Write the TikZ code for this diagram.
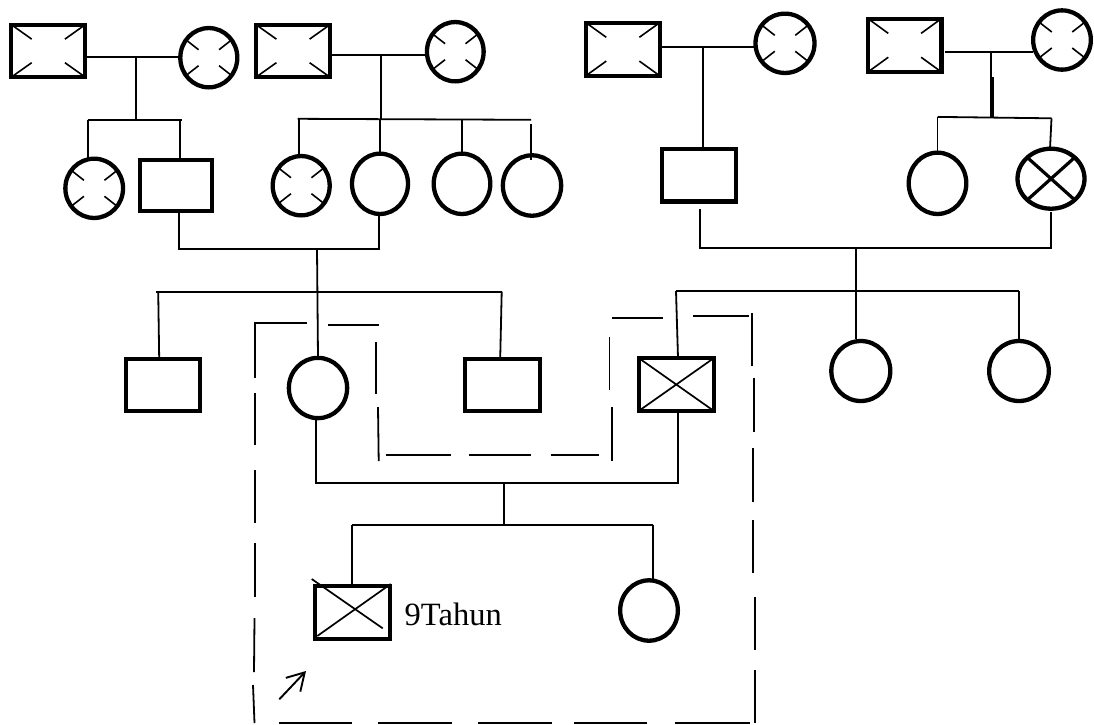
\documentclass[tikz,border=0pt]{standalone}
\usepackage{fontspec}
\setmainfont{Liberation Serif}
\usetikzlibrary{shapes.geometric,calc,arrows.meta}

\tikzset{
  sym/.style={draw, line width=4.3pt, inner sep=0pt, outer sep=0pt},
  male/.style={sym, rectangle, minimum width=74pt, minimum height=52.5pt},
  female/.style={sym, ellipse, minimum width=57pt, minimum height=60pt},
  sz/.style 2 args={minimum width=#1pt, minimum height=#2pt},
  % corner ticks inside a square
  tsq/.style={path picture={
    \foreach \c in {north west,north east,south west,south east}
      \draw[line width=1.6pt] (path picture bounding box.\c) --
        ($(path picture bounding box.\c)!25pt!(path picture bounding box.center)$);}},
  % four short radial ticks inside a circle
  tc/.style={path picture={
    \foreach \a in {38,142,218,322}
      \draw[line width=1.6pt] ($(path picture bounding box.center)+(\a:13pt)$) --
        ($(path picture bounding box.center)+(\a:40pt)$);}},
  % full diagonal cross
  crossq/.style={path picture={
    \draw[line width=1.7pt]
      (path picture bounding box.north west) -- (path picture bounding box.south east)
      (path picture bounding box.south west) -- (path picture bounding box.north east);}},
  crossc/.style={path picture={
    \draw[line width=3.2pt]
      (path picture bounding box.north west) -- (path picture bounding box.south east)
      (path picture bounding box.south west) -- (path picture bounding box.north east);}},
  conn/.style={line width=1.8pt},
  boxdash/.style={line width=1.8pt},
}

\begin{document}
\begin{tikzpicture}[x=1pt,y=-1pt]
\fill[white] (0,0) rectangle (1094,724);
\useasboundingbox (0,0) rectangle (1094,724);

% ---------- generation I ----------
\node[male, tsq] (A) at (48.3,50.9) {};
\node[female, tc, sz={57}{59.3}] (B) at (208.8,57.7) {};
\node[male, tsq] (C) at (293,50.9) {};
\node[female, tc, sz={56.7}{59.3}] (D) at (455.3,51.7) {};
\node[male, tsq, sz={73.7}{53}] (E) at (622.8,49.2) {};
\node[female, tc, sz={59}{59.3}] (F) at (785,43.3) {};
\node[male, tsq, sz={73.3}{53.3}] (H) at (904.7,45.3) {};
\node[female, tc, sz={57.7}{59.3}] (I) at (1062,40) {};

% ---------- generation II ----------
\node[female, tc, sz={57.7}{59.3}] (c1) at (94.2,188.3) {};
\node[male, sz={72.6}{51.6}] (s1) at (176,185.5) {};
\node[female, tc, sz={57}{59.3}] (c2) at (301.2,185.7) {};
\node[female, sz={56}{60.3}] (c3) at (380,183.8) {};
\node[female, sz={56.6}{60.3}] (c4) at (462,183.8) {};
\node[female, sz={58.3}{60.4}] (c5) at (532,185.5) {};
\node[male, sz={73.7}{52.7}] (G) at (698.8,175) {};
\node[female, sz={57.6}{61.3}] (J) at (937.5,183.3) {};
\node[female, crossc, sz={67}{60}] (K) at (1051,178.7) {};

% ---------- generation III ----------
\node[male, sz={74}{52.6}] (L) at (163,385) {};
\node[female, sz={58.3}{60.3}] (M) at (318,388) {};
\node[male, sz={75}{52.6}] (N) at (502.2,385) {};
\node[male, crossq, sz={75.3}{53}] (O) at (676.3,384.5) {};
\node[female, sz={59}{60}] (P) at (860.8,371) {};
\node[female, sz={59.7}{60}] (Q) at (1019,371) {};

% ---------- generation IV ----------
\node[male, sz={75}{53}] (pb) at (352.8,612.5) {};
\draw[line width=1.7pt] ($(pb.center)+(-41.1,-33.5)$) -- ($(pb.center)+(29.9,15.8)$);
\draw[line width=1.7pt] ($(pb.center)+(-35.5,23.5)$) -- ($(pb.center)+(37.9,-28.5)$);
\node[female, sz={57.7}{60.4}] (R) at (649,610.5) {};
\node[anchor=base west, inner sep=0pt, font=\fontsize{32.5}{38}\selectfont] (age) at (404.5,625.7) {9Tahun};

% ---------- connectors ----------
% A x B
\coordinate (ab) at (136,56.7);
\coordinate (abs) at (136,120);
\coordinate (abL) at (87.7,120);
\coordinate (abR) at (181.5,120);
\draw[conn] (A.east |- ab) -- (B.west |- ab);
\draw[conn] (ab) -- (abs);
\draw[conn] (abL) -- (abR);
\draw[conn] (abL) -- (abL |- c1.north);
\draw[conn] ($(abR)+(-1.5,0)$) -- ($(abR |- s1.north)+(-1.5,0)$);

% C x D
\coordinate (cd) at (381,55);
\coordinate (cds) at (381,118.8);
\coordinate (cdL) at (297.7,118.8);
\coordinate (cdR) at (531,119.8);
\draw[conn] (C.east |- cd) -- (D.west |- cd);
\draw[conn] (cd) -- (cds);
\draw[conn] (cdL) -- (cdR);
\draw[conn] ($(cdL)+(1.3,0)$) -- ($(cdL |- c2.north)+(1.3,0)$);
\draw[conn] (c3.north |- cds) -- (c3.north);
\draw[conn] (c4.north |- cds) -- (c4.north);
\draw[conn] ($(cdR)+(0,4.5)$) -- ($(cdR |- c5.north)+(0,5)$);

% s1 x c3
\coordinate (scL) at (179,248.8);
\coordinate (scR) at (379,248.8);
\coordinate (sc) at (317,248.8);
\draw[conn] (scL |- s1.south) -- (scL) -- (scR) -- (scR |- c3.south);
\draw[conn] (sc) -- (M.north);

% sibship of generation III (left)
\coordinate (s3L) at (155.7,291.7);
\coordinate (s3R) at (501.7,291.7);
\draw[conn] (s3L) -- (s3R);
\draw[conn] ($(s3L)+(2.5,0)$) -- ($(s3L |- L.north)+(3.5,0)$);
\draw[conn] (s3R) -- ($(s3R |- N.north)+(-1.5,0)$);

% E x F
\coordinate (ef) at (702.7,47.3);
\draw[conn] (E.east |- ef) -- (F.west |- ef);
\draw[conn] (ef) -- (ef |- G.north);

% H x I
\coordinate (hi) at (991,52.3);
\coordinate (his) at (991,117.3);
\coordinate (hisL) at (937.5,116.9);
\coordinate (hisR) at (1051.5,118.3);
\draw[conn] ($(H.east |- hi)+(3.5,0)$) -- (I.west |- hi);
\draw[conn] (hi) -- (his);
\draw[conn] ($(his)+(2.3,-40.5)$) -- ($(his)+(2.3,0)$);
\draw[conn] (hisL) -- (hisR);
\draw[conn] (hisL) -- (hisL |- J.north);
\draw[conn] (hisR) -- ($(hisR |- K.north)+(-1.5,0)$);

% G x K
\coordinate (gkL) at (700,248.3);
\coordinate (gkR) at (1051,248.3);
\coordinate (gk) at (856,248.3);
\coordinate (gksL) at (675.5,291);
\coordinate (gksR) at (1019,291);
\draw[conn] ($(gkL |- G.south)+(0,8)$) -- (gkL) -- (gkR) -- ($(gkR |- K.south)+(0,3)$);
\draw[conn] (gk) -- ($(gk |- P.north)+(0,-2)$);
\draw[conn] (gksL) -- (gksR);
\draw[conn] ($(gksL)+(0.5,0)$) -- ($(gksL |- O.north)+(2.5,0)$);
\draw[conn] (gksR) -- (gksR |- Q.north);

% M x O
\coordinate (moL) at (316.3,483.3);
\coordinate (moR) at (677.7,483.3);
\coordinate (mo) at (504.3,483.3);
\coordinate (mos) at (504.3,524.7);
\coordinate (mosL) at (352,524.7);
\coordinate (mosR) at (652.7,524.7);
\draw[conn] (moL |- M.south) -- (moL) -- (moR) -- (moR |- O.south);
\draw[conn] (mo) -- (mos);
\draw[conn] (mosL) -- (mosR);
\draw[conn] (mosL) -- (mosL |- pb.north);
\draw[conn] (mosR) -- (mosR |- R.north);

% proband pointer
\coordinate (arT) at (279.3,699.3);
\coordinate (arH) at (306,671);
\draw[line width=1.9pt, -{Straight Barb[length=17pt,width=20pt]}] (arT) -- (arH);

% ---------- dashed household outline ----------
\draw[boxdash] (255,378) -- (255,323) -- (307,323);
\draw[boxdash] (328,325) -- (379,325);
\foreach \ya/\yb in {393/445,470/523,543/597}
  \draw[boxdash] (255,\ya) -- (255,\yb);
\draw[boxdash] (254.5,618) -- (254,672);
\draw[boxdash] (253,685) -- (254.5,723);
% inner notch
\draw[boxdash] (376,342) -- (376,394);
\draw[boxdash] (378,407) -- (378.7,461);
\foreach \xa/\xb in {386/451,469/531,551/599}
  \draw[boxdash] (\xa,455) -- (\xb,455);
\draw[boxdash] (609.5,337) -- (609.5,390);
\draw[boxdash] (612,407) -- (612,461);
% upper right
\draw[boxdash] (612,318) -- (663,318);
\draw[boxdash] (693,316) -- (749,316);
\draw[boxdash] (752,313) -- (752,366);
\draw[boxdash] (754,378) -- (754,432);
\draw[boxdash] (753,448) -- (753,502);
\draw[boxdash] (753,520) -- (753,573);
\draw[boxdash] (755,597) -- (755,650);
\draw[boxdash] (755,670) -- (755,723);
% bottom
\foreach \xa/\xb in {279/352,378/452,478/552,574/647,675/750}
  \draw[boxdash] (\xa,723) -- (\xb,723);
\end{tikzpicture}
\end{document}
